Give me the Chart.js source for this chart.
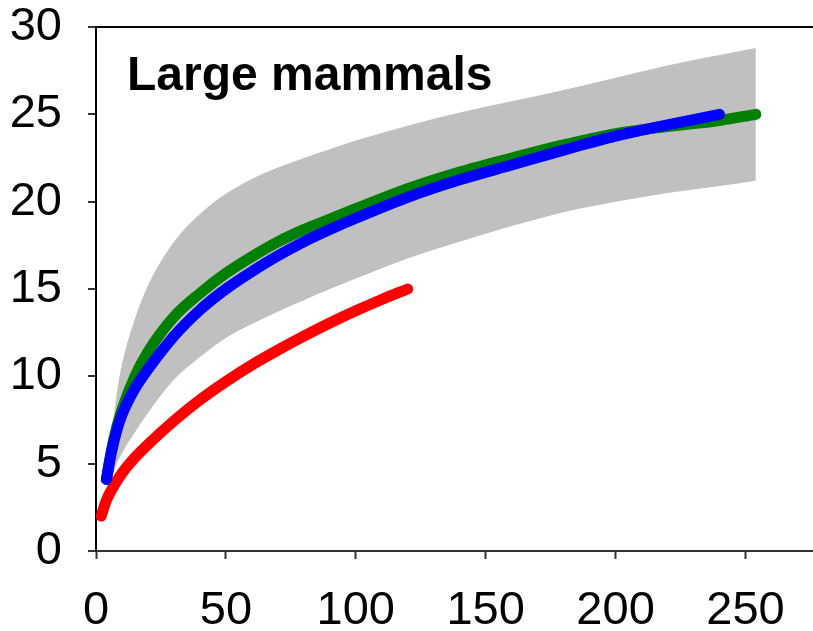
<!DOCTYPE html>
<html>
<head>
<meta charset="utf-8">
<script src="https://cdn.jsdelivr.net/npm/chart.js@4.4.1/dist/chart.umd.min.js"></script>
<style>
  html, body { margin: 0; padding: 0; background: #fff; }
  #wrap { width: 813px; height: 631px; }
</style>
</head>
<body>
<div id="wrap"><canvas id="chart"></canvas></div>
<script>
  // data
  const titleText = 'Large mammals';
  const xTicks = [0, 50, 100, 150, 200, 250];
  const yTicks = [0, 5, 10, 15, 20, 25, 30];

  const bandX     = [4.5, 6, 8, 10, 15, 20, 30, 40, 50, 60, 70, 80, 90, 100, 120, 140, 160, 180, 200, 220, 240, 254];
  const bandLower = [3.6, 4.1, 5.0, 5.6, 6.8, 7.9, 9.8, 11.1, 12.2, 13.0, 13.7, 14.35, 15.0, 15.6, 16.75, 17.7, 18.6, 19.4, 20.0, 20.5, 20.9, 21.2];
  const bandUpper = [4.6, 6.6, 9.0, 10.7, 13.3, 15.2, 17.7, 19.3, 20.45, 21.3, 21.95, 22.5, 23.0, 23.5, 24.35, 25.1, 25.75, 26.4, 27.1, 27.8, 28.4, 28.8];

  const greenX = [4, 6, 8, 10, 15, 20, 30, 40, 50, 60, 70, 80, 90, 100, 120, 140, 160, 180, 200, 220, 240, 254];
  const greenY = [4.1, 5.8, 7.1, 8.1, 10.0, 11.4, 13.4, 14.75, 15.9, 16.85, 17.7, 18.4, 19.0, 19.6, 20.75, 21.7, 22.5, 23.25, 23.9, 24.3, 24.65, 25.0];

  const blueX = [4, 6, 8, 10, 15, 20, 30, 40, 50, 60, 70, 80, 90, 100, 120, 140, 160, 180, 200, 220, 240];
  const blueY = [4.1, 5.7, 6.9, 7.8, 9.3, 10.4, 12.3, 13.8, 15.0, 16.0, 16.9, 17.7, 18.4, 19.05, 20.25, 21.25, 22.1, 22.95, 23.75, 24.4, 25.0];

  const redX = [2, 4, 6, 10, 15, 20, 30, 40, 50, 60, 70, 80, 90, 100, 110, 120];
  const redY = [2.0, 2.9, 3.5, 4.45, 5.35, 6.1, 7.45, 8.65, 9.7, 10.65, 11.5, 12.3, 13.05, 13.75, 14.4, 15.0];

  const pts = (xs, ys) => xs.map((x, i) => ({ x: x, y: ys[i] }));

  const lineStyle = (color) => ({
    borderColor: color,
    borderWidth: 11,
    borderCapStyle: 'round',
    borderJoinStyle: 'round',
    pointRadius: 0,
    fill: false,
    cubicInterpolationMode: 'monotone',
    clip: false
  });

  // draws the bold label inside the plot
  const titlePlugin = {
    id: 'insideTitle',
    afterDraw(chart) {
      const c = chart.ctx;
      c.save();
      c.font = 'bold 48px "Liberation Sans", Arial, sans-serif';
      c.fillStyle = '#000';
      c.textBaseline = 'alphabetic';
      c.fillText(titleText, chart.chartArea.left + 31, chart.chartArea.top + 63);
      c.restore();
    }
  };

  const ctx = document.getElementById('chart').getContext('2d');
  new Chart(ctx, {
    type: 'line',
    data: {
      datasets: [
        Object.assign({ label: 'blue', data: pts(blueX, blueY) }, lineStyle('#0000ff')),
        Object.assign({ label: 'green', data: pts(greenX, greenY) }, lineStyle('#008000')),
        Object.assign({ label: 'red', data: pts(redX, redY) }, lineStyle('#ff0000')),
        {
          label: 'upper',
          data: pts(bandX, bandUpper),
          borderWidth: 0,
          borderColor: 'rgba(0,0,0,0)',
          backgroundColor: '#c0c0c0',
          pointRadius: 0,
          fill: '+1',
          cubicInterpolationMode: 'monotone'
        },
        {
          label: 'lower',
          data: pts(bandX, bandLower),
          borderWidth: 0,
          borderColor: 'rgba(0,0,0,0)',
          pointRadius: 0,
          fill: false,
          cubicInterpolationMode: 'monotone'
        }
      ]
    },
    options: {
      responsive: true,
      maintainAspectRatio: false,
      animation: false,
      layout: { padding: { top: 27, left: 0, right: 0, bottom: 0 } },
      plugins: {
        legend: { display: false },
        tooltip: { enabled: false }
      },
      scales: {
        x: {
          type: 'linear',
          min: 0,
          max: 276,
          afterBuildTicks: (axis) => { axis.ticks = xTicks.map(v => ({ value: v })); },
          afterFit: (axis) => {
            axis.height = 80;
            axis.paddingLeft = 0;
            axis.paddingRight = 0;
          },
          border: { color: '#333', width: 2 },
          grid: { drawOnChartArea: false, tickLength: 8, tickWidth: 2, tickColor: '#333' },
          ticks: {
            color: '#000',
            padding: 24,
            maxRotation: 0,
            font: { family: '"Liberation Sans", Arial, sans-serif', size: 47 }
          }
        },
        y: {
          min: 0,
          max: 30,
          afterBuildTicks: (axis) => { axis.ticks = yTicks.map(v => ({ value: v })); },
          afterFit: (axis) => {
            axis.width = 96;
            axis.paddingTop = 0;
            axis.paddingBottom = 0;
          },
          border: { color: '#000', width: 2 },
          grid: {
            drawOnChartArea: true,
            color: (c) => (c.tick && c.tick.value === 30 ? '#000' : 'rgba(0,0,0,0)'),
            lineWidth: 2,
            tickLength: 8,
            tickWidth: 2,
            tickColor: '#333'
          },
          ticks: {
            color: '#000',
            padding: 26,
            font: { family: '"Liberation Sans", Arial, sans-serif', size: 47 }
          }
        }
      }
    },
    plugins: [titlePlugin]
  });
</script>
</body>
</html>
